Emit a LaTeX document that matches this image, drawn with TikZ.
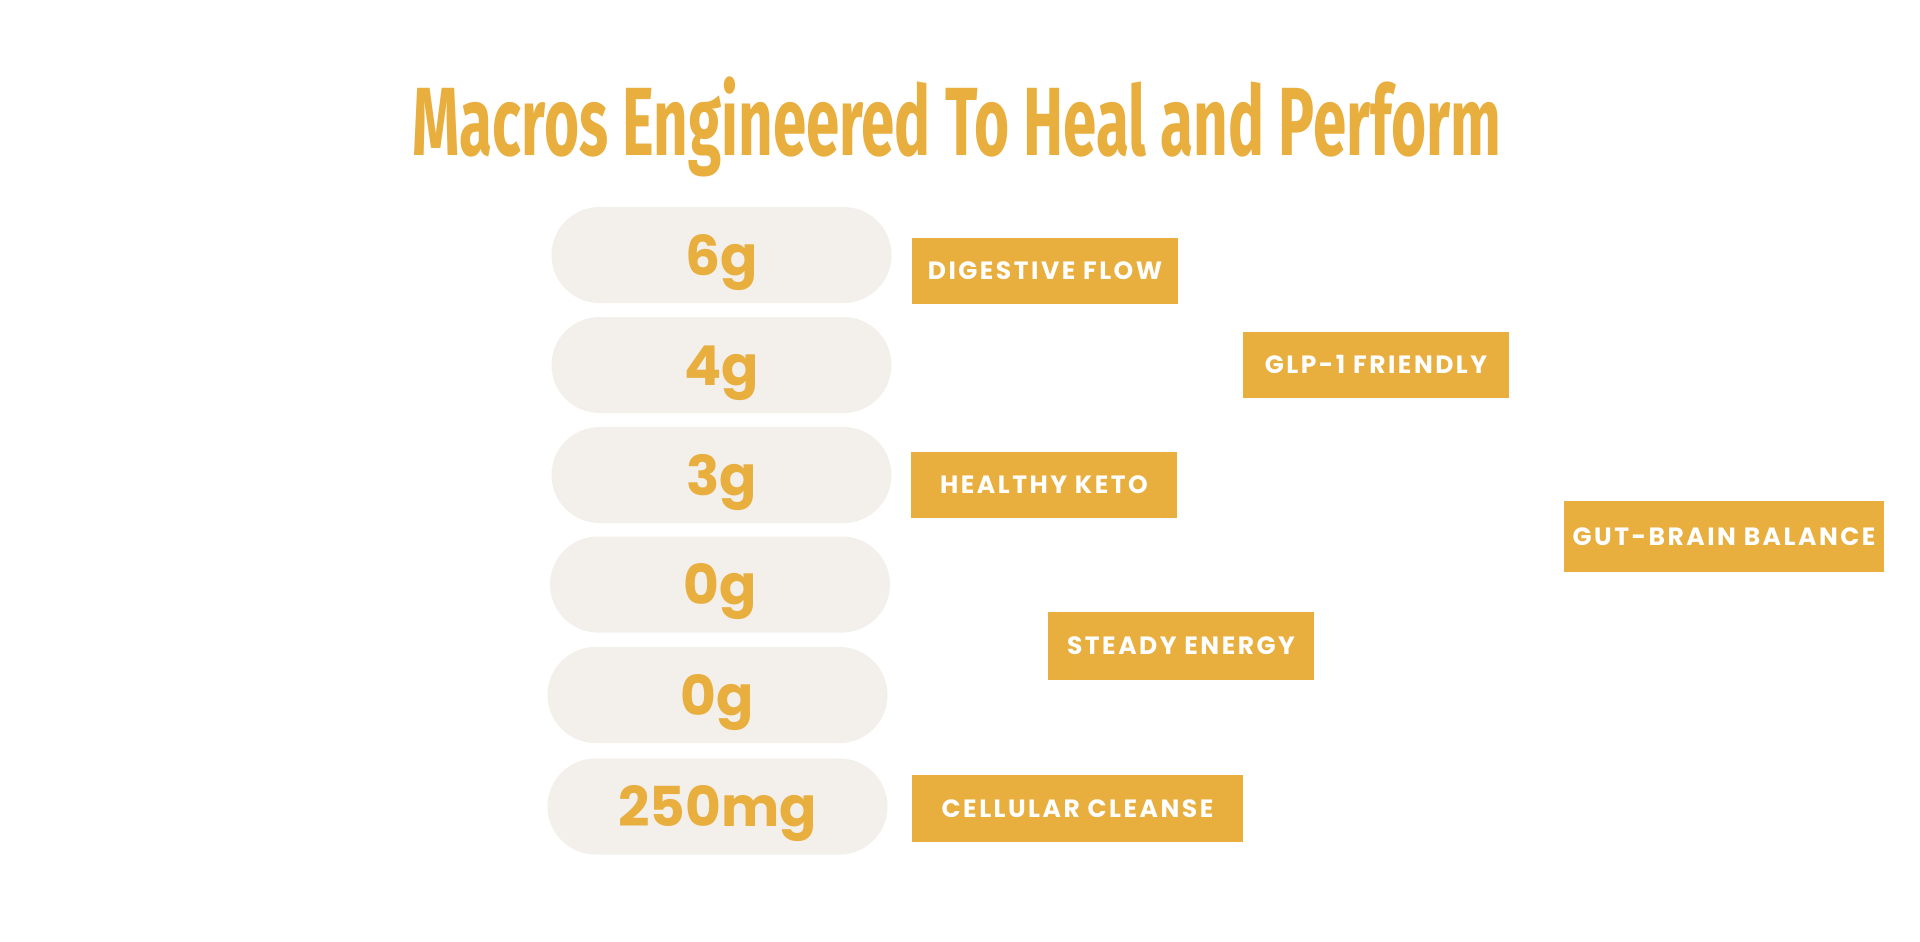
\documentclass[tikz,border=0pt]{standalone}
\usepackage{fontspec}
\setmainfont{Poppins}
\newfontfamily\titlefont[FakeStretch=0.62]{Fira Sans}
\newfontfamily\tagfont[LetterSpace=10]{Poppins}
\usepackage{tikz}
\usetikzlibrary{positioning}
\usepackage{xcolor}
\definecolor{mgold}{RGB}{232,174,62}
\definecolor{mcream}{RGB}{243,239,234}
\tikzstyle{pill} = [fill=mcream, rounded corners=48pt, minimum width=340pt, minimum height=96pt, inner sep=0pt, text height=40pt, text depth=0pt, text=mgold, font=\fontsize{55}{58}\selectfont\bfseries]
\tikzstyle{tag} = [fill=mgold, minimum height=66pt, inner sep=0pt, text height=17.5pt, text depth=0pt, text=white, font=\tagfont\fontsize{25}{27}\selectfont\bfseries]

\begin{document}
\begin{tikzpicture}[x=1pt, y=-1pt]
\useasboundingbox (0,0) rectangle (1920,942);

% Title
\node[anchor=base, text=mgold, inner sep=0pt, font=\titlefont\fontsize{97}{100}\selectfont\bfseries] (title) at (957,155) {Macros Engineered To Heal and Perform};

% Amounts
\node[pill] (six) at (721.5,255) {6g};
\node[pill] (four) at (721.5,365) {4g};
\node[pill] (three) at (721.5,475) {3g};
\node[pill] (zeroa) at (720,584.5) {0g};
\node[pill] (zerob) at (717.5,695) {0g};
\node[pill] (mg) at (717.5,806.5) {250mg};

% Benefits
\node[tag, minimum width=266pt] (digest) at (1045,271) {DIGESTIVE FLOW};
\node[tag, minimum width=266pt] (glp) at (1376,365) {GLP-1 FRIENDLY};
\node[tag, minimum width=266pt] (keto) at (1044,485) {HEALTHY KETO};
\node[tag, minimum width=320pt, minimum height=71pt] (gut) at (1724,536.5) {GUT-BRAIN BALANCE};
\node[tag, minimum width=266pt, minimum height=68pt] (energy) at (1181,646) {STEADY ENERGY};
\node[tag, minimum width=331pt, minimum height=67pt] (cleanse) at (1077.5,808.5) {CELLULAR CLEANSE};
\end{tikzpicture}
\end{document}
